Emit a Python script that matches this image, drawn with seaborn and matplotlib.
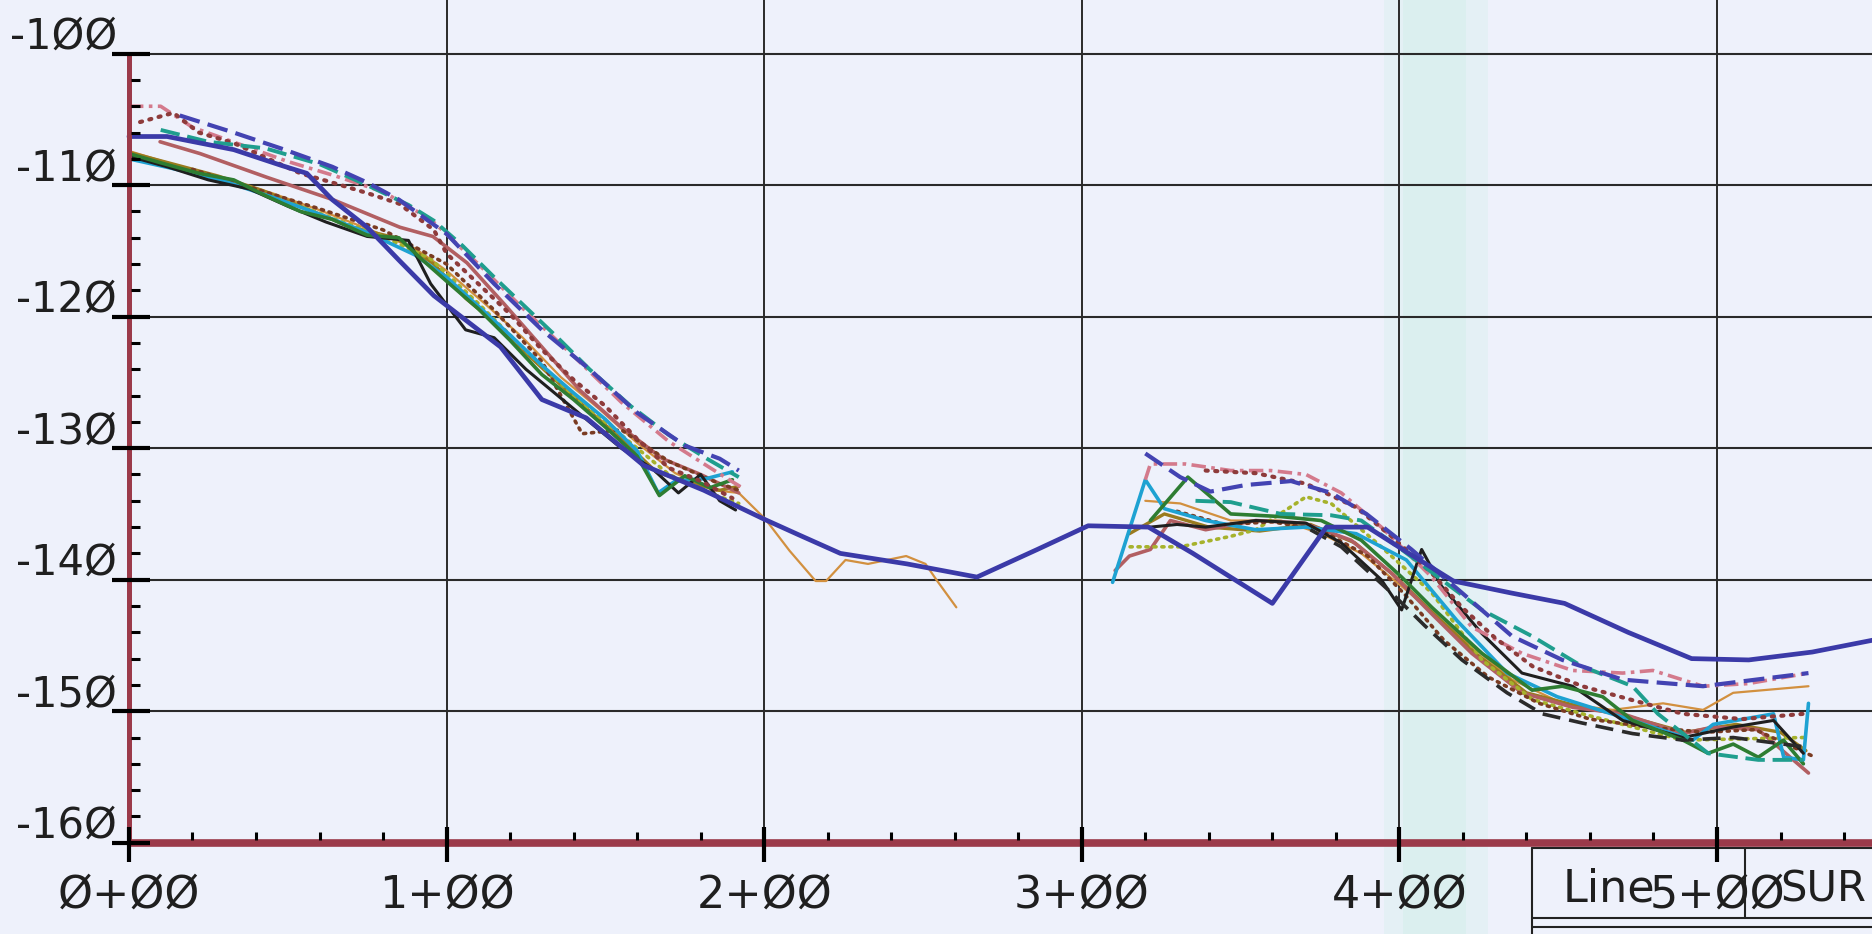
import matplotlib
matplotlib.use("Agg")
import matplotlib.pyplot as plt
import numpy as np
import pandas as pd
import seaborn as sns

# ---------------------------------------------------------------- data ----
# Stations in feet along the line, elevations in feet.
main_x = [0, 12, 33, 48, 56, 64, 75, 85, 96, 117, 130, 144, 162, 181, 200, 211,
          224, 245, 267, 286, 302, 321, 335, 360, 377, 390, 403, 417, 435, 452,
          472, 492, 510, 530, 549]
main_y = [-106.3, -106.3, -107.3, -108.5, -109.1, -111.1, -113.2, -115.7, -118.4,
          -122.3, -126.3, -127.7, -131.3, -133.2, -135.4, -136.6, -138.0, -138.8,
          -139.8, -137.7, -135.9, -136.0, -138.0, -141.8, -136.0, -136.0, -138.0,
          -140.1, -141.0, -141.8, -144.0, -146.0, -146.1, -145.5, -144.6]

blue_dash_x1 = [16, 33, 49, 64, 75, 85, 100, 115, 130, 145, 160, 175, 186, 192]
blue_dash_y1 = [-104.7, -106.0, -107.3, -108.6, -109.8, -111.1, -113.7, -117.5,
                -121.0, -124.0, -127.3, -129.8, -130.8, -131.7]
blue_dash_x2 = [320, 331, 340.5, 351.6, 365.9, 378.5, 389.6, 403.8, 419.7, 435.5,
                451.3, 470.3, 495.6, 528.8]
blue_dash_y2 = [-130.4, -132.2, -133.3, -132.8, -132.5, -133.4, -135.0, -137.7,
                -141.0, -144.3, -146.1, -147.6, -148.1, -147.1]

teal_x1 = [10, 25, 43, 60, 75, 88, 96, 105, 115, 125, 135, 145, 158, 170, 182, 192]
teal_y1 = [-105.8, -106.7, -107.2, -108.4, -110.0, -111.5, -112.7, -114.6, -117.0,
           -119.3, -121.6, -124.0, -126.8, -129.0, -130.8, -132.2]
teal_x2 = [335.8, 346.9, 362.7, 378.5, 388, 400.7, 413.3, 426, 441.8, 457.6, 473.4,
           481.4, 497.2, 513, 527.2]
teal_y2 = [-134.0, -134.1, -135.0, -135.1, -135.5, -137.7, -140.0, -142.3, -144.3,
           -146.6, -148.1, -150.2, -153.2, -153.7, -153.7]

maroon_dot_x1 = [3.5, 14, 22, 33, 43, 54, 64, 75, 85, 96, 100, 110, 120, 130, 140,
                 150, 160, 170, 180, 190]
maroon_dot_y1 = [-105.2, -104.5, -106.0, -106.8, -107.9, -109.1, -109.8, -110.6,
                 -111.4, -113.4, -115.2, -117.5, -119.8, -122.5, -124.8, -126.8,
                 -129.3, -131.5, -132.5, -133.8]
maroon_dot_x2 = [339, 354.8, 370.6, 386.4, 397.5, 410.2, 419.7, 430, 442, 457.6,
                 474, 489.3, 508, 527.2]
maroon_dot_y2 = [-131.7, -131.9, -132.7, -134.5, -136.7, -139.5, -142.1, -144.4,
                 -146.6, -148.1, -149.2, -150.2, -150.6, -150.2]

pink_x1 = [0, 10, 20, 35, 50, 65, 80, 95, 110, 125, 140, 155, 170, 185, 193]
pink_y1 = [-104.0, -104.0, -105.6, -106.9, -108.2, -109.3, -110.5, -112.6, -116.0,
           -119.6, -123.0, -126.5, -129.5, -131.8, -133.0]
pink_x2 = [320, 321.6, 332.6, 346.9, 359.5, 370.6, 381.7, 394.3, 410.2, 422.8,
           438.6, 454.5, 470.3, 479.8, 495.6, 509.8, 528.8]
pink_y2 = [-132.4, -131.2, -131.2, -131.7, -131.7, -132.0, -133.4, -136.0, -139.8,
           -143.6, -145.6, -146.9, -147.1, -146.9, -148.1, -147.9, -147.1]

rose_x1 = [9.8, 22.4, 43.4, 64.2, 85.3, 95.7, 106.4, 118, 130, 142, 155, 168, 180, 192]
rose_y1 = [-106.7, -107.6, -109.4, -111.1, -113.2, -113.9, -115.9, -119.0, -122.3,
           -125.6, -128.4, -130.8, -132.0, -133.4]
rose_x2 = [310.5, 315, 321.6, 327.9, 339, 354.8, 370, 384.8, 397.5, 410.2, 422.8,
           438.6, 454.5, 470.3, 489.3, 498.8, 513, 528.8]
rose_y2 = [-139.3, -138.2, -137.7, -135.5, -136.2, -135.5, -135.7, -137.0, -139.5,
           -142.6, -145.6, -148.6, -149.7, -150.2, -151.7, -151.2, -151.4, -154.7]

green_x1 = [0, 10, 22, 33, 43, 54, 64, 75, 85, 92, 100, 110, 120, 130, 140, 150,
            160, 167, 175, 183, 190]
green_y1 = [-107.6, -108.3, -109.1, -109.6, -110.8, -112.0, -112.6, -113.8, -114.0,
            -115.6, -117.3, -119.4, -121.8, -124.4, -126.3, -128.4, -130.6, -133.6,
            -132.1, -133.0, -132.4]
green_x2 = [321.6, 333.4, 346.9, 362.7, 375.4, 388, 400.7, 410.2, 426, 441.8, 451.3,
            464, 473.4, 489.3, 497.2, 505.1, 513, 520.9, 527.2]
green_y2 = [-135.5, -132.2, -135.0, -135.2, -135.5, -137.0, -139.8, -142.1, -145.6,
            -148.4, -148.1, -148.9, -150.7, -152.2, -153.2, -152.5, -153.5, -152.2,
            -154.0]

black_x1 = [0, 12, 25, 38, 50, 62, 75, 88, 95, 106, 115, 125, 135, 145, 155, 165,
            173, 180, 186, 191]
black_y1 = [-107.8, -108.6, -109.6, -110.3, -111.6, -112.8, -113.9, -114.2, -117.5,
            -121.0, -121.6, -124.0, -126.0, -128.0, -130.0, -131.6, -133.4, -132.0,
            -134.0, -134.7]
black_x2 = [321.6, 330, 339, 354.8, 370.6, 381.7, 394.3, 400.7, 407, 413.3, 426,
            438.6, 454.5, 470.3, 489.3, 505.1, 517.8, 527.2]
black_y2 = [-136.0, -135.8, -136.0, -135.5, -135.7, -137.2, -140.0, -142.3, -137.7,
            -140.5, -144.1, -147.1, -148.1, -150.7, -152.0, -151.2, -150.7, -153.2]

cyan_x1 = [0, 15, 30, 45, 60, 75, 90, 100, 110, 120, 130, 140, 150, 160, 166.6,
           172, 182, 190]
cyan_y1 = [-108.0, -108.8, -109.7, -110.9, -112.2, -113.6, -115.3, -117.0, -119.2,
           -121.4, -123.7, -125.8, -127.8, -130.2, -133.4, -132.5, -132.3, -131.8]
cyan_x2 = [309.7, 320, 326, 339, 354.8, 370.6, 386.4, 402.2, 418.1, 433.9, 449.7,
           473.4, 492.4, 498.8, 517.8, 521, 527.2, 528.8]
cyan_y2 = [-140.2, -132.4, -134.6, -135.5, -136.2, -136.0, -136.5, -138.5, -143.1,
           -147.1, -148.9, -150.7, -152.2, -151.0, -150.2, -153.5, -153.7, -149.4]

olive_x1 = [0, 14, 28, 42, 56, 70, 84, 96, 106, 116, 126, 136, 146, 156, 166, 176,
            186, 192]
olive_y1 = [-107.5, -108.4, -109.3, -110.4, -111.8, -113.2, -114.0, -116.0, -118.6,
            -120.6, -123.0, -125.2, -127.4, -129.5, -131.8, -132.6, -133.2, -132.9]
olive_x2 = [315, 326, 340, 356, 372, 386, 398, 410, 424, 440, 456, 472, 490, 506,
            520, 528]
olive_y2 = [-136.5, -135.0, -136.0, -136.3, -135.8, -137.2, -139.6, -142.4, -145.6,
            -148.6, -149.6, -150.4, -151.6, -151.0, -151.6, -153.0]

tan_x1 = [0, 15, 30, 45, 60, 75, 90, 100, 112, 124, 136, 148, 160, 172, 184, 192,
          200.4, 208, 216.2, 219.5, 225.6, 232.7, 244.7, 250.8, 254.5, 260.5]
tan_y1 = [-107.4, -108.5, -109.5, -110.6, -111.9, -113.3, -114.8, -116.5, -119.0,
          -121.6, -124.6, -127.0, -129.6, -131.9, -133.2, -133.4, -135.4, -137.8,
          -140.1, -140.1, -138.5, -138.8, -138.2, -138.8, -140.1, -142.1]
tan_x2 = [320, 331, 346.9, 362.7, 375.4, 388, 402.2, 418.1, 435.5, 451.3, 467.1,
          483, 495.6, 505.1, 514.6, 528.8]
tan_y2 = [-134.0, -134.2, -135.5, -135.5, -136.5, -138.0, -140.8, -144.1, -147.6,
          -149.4, -149.9, -149.4, -149.9, -148.6, -148.4, -148.1]

lime_x1 = [5, 20, 35, 50, 65, 80, 95, 110, 125, 140, 155, 170, 185, 192]
lime_y1 = [-108.2, -109.0, -110.0, -111.2, -112.6, -113.9, -115.6, -119.0, -122.6,
           -126.0, -129.0, -132.0, -133.6, -134.2]
lime_x2 = [315.2, 331, 346.9, 354.8, 370.6, 378.5, 394.3, 410.2, 426, 441.8, 457.6,
           489.3, 527.2]
lime_y2 = [-137.5, -137.5, -136.7, -136.2, -133.7, -134.2, -137.5, -141.0, -146.1,
           -149.1, -150.2, -152.2, -152.0]

dark_dash_x2 = [372, 381.7, 397.5, 408, 419.7, 433.9, 445, 457.6, 473.4, 489.3,
                505.1, 527.2]
dark_dash_y2 = [-136.2, -137.5, -141.0, -143.5, -146.1, -148.6, -150.2, -150.9,
                -151.7, -152.2, -152.0, -152.7]

brown_dot_x1 = [20, 40, 60, 80, 100, 115, 130, 142.7, 155, 170, 185, 192]
brown_dot_y1 = [-108.8, -110.3, -111.8, -113.4, -116.0, -119.5, -123.4, -128.9,
                -128.6, -131.0, -132.6, -133.2]
brown_dot_x2 = [330, 345, 360, 375, 390, 402, 414, 428, 444, 460, 478, 496, 512, 530]
brown_dot_y2 = [-134.8, -135.8, -135.6, -136.2, -138.2, -141.2, -144.6, -147.4,
                -149.4, -150.6, -151.2, -151.6, -151.4, -153.4]

y_ticks = [-100, -110, -120, -130, -140, -150, -160]
y_labels = ["-1ØØ", "-11Ø", "-12Ø", "-13Ø", "-14Ø", "-15Ø", "-16Ø"]
x_ticks = [0, 100, 200, 300, 400, 500]
x_labels = ["Ø+ØØ", "1+ØØ", "2+ØØ", "3+ØØ", "4+ØØ", "5+ØØ"]

# --------------------------------------------------------------- style ----
sns.set_theme(style="white")
plt.rcParams["font.family"] = ["DejaVu Sans"]

PAPER = "#eef1fb"
GRID = "#2a2a2a"
AXIS = "#9b3a4a"
INK = "#1f1f1f"

fig = plt.figure(figsize=(18.72, 9.34), dpi=100)
fig.patch.set_facecolor(PAPER)
ax = fig.add_axes([0, 0, 1, 1])
ax.set_xlim(-40.6, 548.8)
ax.set_ylim(-166.94, -95.92)
ax.set_axis_off()

# pale vertical band across the sheet
ax.axvspan(395, 428, color="#d9efee", alpha=0.45, lw=0, zorder=0)
ax.axvspan(401, 421, color="#d6efec", alpha=0.6, lw=0, zorder=0)

# grid
for yv in y_ticks[:-1]:
    ax.plot([0, 548.8], [yv, yv], color=GRID, lw=1.5, zorder=1)
for xv in x_ticks[1:]:
    ax.plot([xv, xv], [-160, -95.92], color=GRID, lw=1.4, zorder=1)


def draw(segments, color, lw, ls="-", z=3, cap="butt"):
    rows = []
    for k, (xs, ys) in enumerate(segments):
        for xv, yv in zip(xs, ys):
            rows.append({"station": xv, "elev": yv, "seg": k})
    df = pd.DataFrame(rows)
    sns.lineplot(data=df, x="station", y="elev", units="seg", estimator=None,
                 sort=False, color=color, linewidth=lw, linestyle=ls,
                 dash_capstyle=cap, solid_joinstyle="round", ax=ax,
                 legend=False, zorder=z)


draw([(tan_x1, tan_y1), (tan_x2, tan_y2)], "#d2903f", 1.6)
draw([(olive_x1, olive_y1), (olive_x2, olive_y2)], "#9a7b1e", 2.4)
draw([(rose_x1, rose_y1), (rose_x2, rose_y2)], "#b25f62", 2.6)
draw([(lime_x1, lime_y1), (lime_x2, lime_y2)], "#a6b22c", 2.6, (0, (0.6, 1.6)), cap="round")
draw([(brown_dot_x1, brown_dot_y1), (brown_dot_x2, brown_dot_y2)], "#7a3b22", 2.6,
     (0, (0.6, 1.6)), cap="round")
draw([(cyan_x1, cyan_y1), (cyan_x2, cyan_y2)], "#1ea2d2", 2.6)
draw([(black_x1, black_y1), (black_x2, black_y2)], "#1f1f1f", 2.2)
draw([(green_x1, green_y1), (green_x2, green_y2)], "#2e7d32", 2.6)
draw([(dark_dash_x2, dark_dash_y2)], "#2b2b2b", 2.6, (0, (5, 2.5)))
draw([(pink_x1, pink_y1), (pink_x2, pink_y2)], "#d47a8c", 2.6, (0, (4, 1.5, 1, 1.5)))
draw([(maroon_dot_x1, maroon_dot_y1), (maroon_dot_x2, maroon_dot_y2)], "#8e3b3b", 3.0,
     (0, (0.5, 1.8)), cap="round")
draw([(teal_x1, teal_y1), (teal_x2, teal_y2)], "#1f9e8e", 2.8, (0, (5, 2)))
draw([(blue_dash_x1, blue_dash_y1), (blue_dash_x2, blue_dash_y2)], "#4343b2", 3.0,
     (0, (5, 2)))
draw([(main_x, main_y)], "#3b3aa8", 3.4, z=4)

# axes drawn as plotter strokes
ax.plot([0, 0], [-160, -100], color=AXIS, lw=3.6, zorder=5, solid_capstyle="butt")
ax.plot([0, 548.8], [-160, -160], color=AXIS, lw=5.5, zorder=5, solid_capstyle="butt")

for yv in y_ticks:
    ax.plot([-5.4, 6.6], [yv, yv], color="black", lw=3.0, zorder=6, solid_capstyle="butt")
for yv in np.arange(-158, -100, 2):
    if yv % 10 != 0:
        ax.plot([0.8, 3.4], [yv, yv], color="black", lw=2.2, zorder=6,
                solid_capstyle="butt")
for xv in x_ticks:
    ax.plot([xv, xv], [-158.8, -161.5], color="black", lw=3.0, zorder=6,
            solid_capstyle="butt")
for xv in np.arange(20, 549, 20):
    if xv % 100 != 0:
        ax.plot([xv, xv], [-159.2, -159.8], color="black", lw=2.2, zorder=6,
                solid_capstyle="butt")

for yv, lab in zip(y_ticks, y_labels):
    ax.text(-3.8, yv + 0.35, lab, ha="right", va="baseline", fontsize=30,
            color=INK, zorder=7)
for xv, lab in zip(x_ticks, x_labels):
    ax.text(xv, -164.9, lab, ha="center", va="baseline", fontsize=32,
            color=INK, zorder=7)

# title block in the lower right corner
BOX = "#222222"
ax.plot([441.8, 441.8], [-160.4, -167], color=BOX, lw=1.5, zorder=6)
ax.plot([441.8, 548.8], [-160.4, -160.4], color=BOX, lw=1.5, zorder=4)
ax.plot([508.8, 508.8], [-160.4, -165.7], color=BOX, lw=1.5, zorder=6)
ax.plot([441.8, 548.8], [-165.7, -165.7], color=BOX, lw=1.5, zorder=6)
ax.plot([441.8, 548.8], [-166.4, -166.4], color=BOX, lw=1.5, zorder=6)
ax.text(451.5, -164.5, "Line", ha="left", va="baseline", fontsize=32,
        color=INK, zorder=7)
ax.text(520.0, -164.5, "SUR", ha="left", va="baseline", fontsize=30,
        color=INK, zorder=7)

fig.savefig("out.png", dpi=100, facecolor=fig.get_facecolor())
